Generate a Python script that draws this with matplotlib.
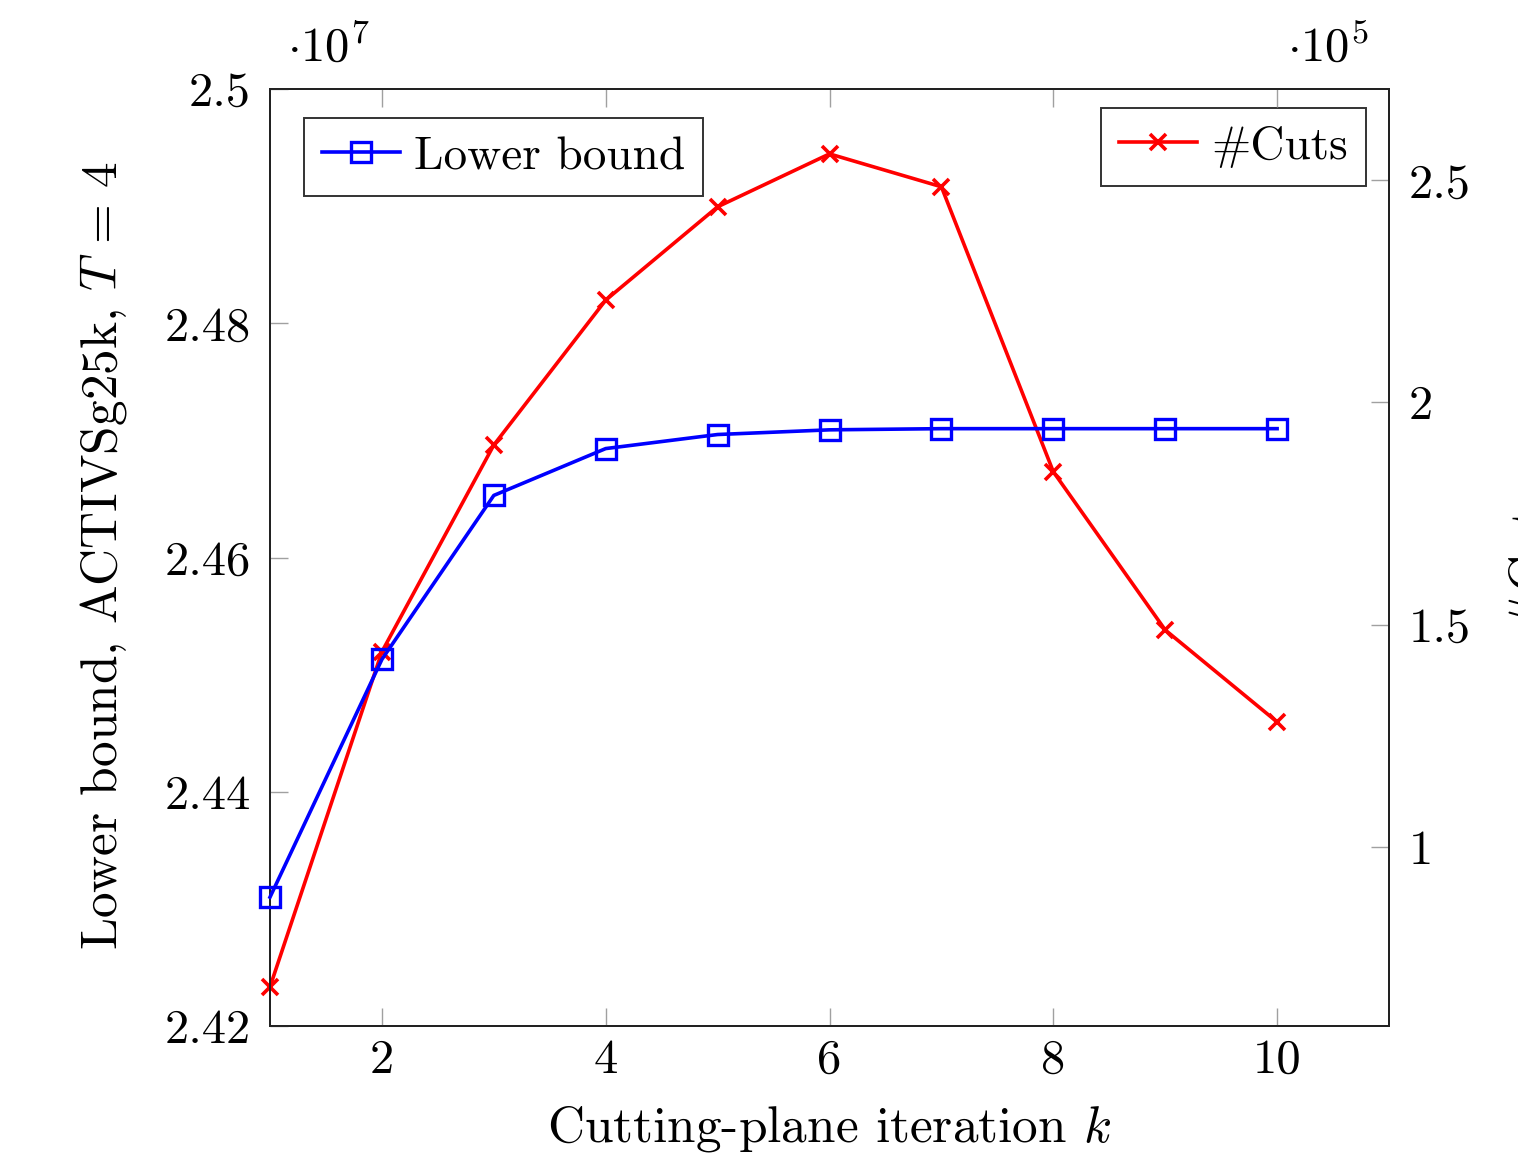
import matplotlib
matplotlib.use("Agg")
import matplotlib.pyplot as plt
from matplotlib.ticker import FuncFormatter, FixedLocator

plt.rcParams['font.family'] = ['cmr10', 'DejaVu Serif']
plt.rcParams['mathtext.fontset'] = 'cm'
plt.rcParams['axes.formatter.use_mathtext'] = True

iterations = [1, 2, 3, 4, 5, 6, 7, 8, 9, 10]
lower_bound = [2.4310e7, 2.4513e7, 2.4653e7, 2.4693e7, 2.4705e7,
               2.4709e7, 2.4710e7, 2.4710e7, 2.4710e7, 2.4710e7]
num_cuts = [0.685e5, 1.439e5, 1.904e5, 2.230e5, 2.440e5,
            2.559e5, 2.485e5, 1.844e5, 1.488e5, 1.281e5]

x_ticks = [2, 4, 6, 8, 10]
left_ticks = [2.42e7, 2.44e7, 2.46e7, 2.48e7, 2.50e7]
right_ticks = [1.0e5, 1.5e5, 2.0e5, 2.5e5]

FS = 35
LFS = 37
W, H = 1518, 1167
fig = plt.figure(figsize=(W / 100, H / 100), dpi=100)
ax = fig.add_axes([270 / W, 1 - 1026 / H, (1389 - 270) / W, (1026 - 89) / H])
ax2 = ax.twinx()

tick_gray = '#a0a0a0'
for a in (ax, ax2):
    for s in a.spines.values():
        s.set_linewidth(1.4)
        s.set_color('#222222')

ax.plot(iterations, lower_bound, color='#0000ff', lw=2.6, marker='s',
        markersize=15, markerfacecolor='none', markeredgewidth=2.4,
        label='Lower bound', clip_on=False, zorder=3)
ax2.plot(iterations, num_cuts, color='#ff0000', lw=2.6, marker='x',
         markersize=11, markeredgewidth=2.6, label='#Cuts', clip_on=False, zorder=3)

ax.set_xlim(1, 11)
ax.set_ylim(2.42e7, 2.50e7)
ax2.set_ylim(0.597e5, 2.705e5)

ax.xaxis.set_major_locator(FixedLocator(x_ticks))
ax.yaxis.set_major_locator(FixedLocator(left_ticks))
ax2.yaxis.set_major_locator(FixedLocator(right_ticks))
ax.xaxis.set_major_formatter(FuncFormatter(lambda v, p: f"{v:g}"))
ax.yaxis.set_major_formatter(FuncFormatter(lambda v, p: f"{v / 1e7:g}"))
ax2.yaxis.set_major_formatter(FuncFormatter(lambda v, p: f"{v / 1e5:g}"))

ax.tick_params(axis='x', direction='in', top=True, bottom=True, length=13,
               width=1.0, color=tick_gray, labelsize=FS, pad=9)
ax.tick_params(axis='y', direction='in', left=True, right=False, length=13,
               width=1.0, color=tick_gray, labelsize=FS, pad=14)
ax2.tick_params(axis='y', direction='in', right=True, left=False, length=13,
                width=1.0, color=tick_gray, labelsize=FS, pad=14)

ax.set_xlabel('Cutting-plane iteration $k$', fontsize=LFS, labelpad=15)
fig.text(78 / W, 1 - 555 / H, 'Lower bound, ACTIVSg25k, $T\\,=\\,4$',
         rotation=90, ha='left', va='center', fontsize=LFS)
fig.text(1506 / W, 1 - 557 / H, '#Cuts', rotation=90, ha='left', va='center',
         fontsize=LFS)

fig.text(287 / W, 1 - 62 / H, r'$\cdot 10^{7}$', ha='left', va='baseline', fontsize=FS)
fig.text(1287 / W, 1 - 62 / H, r'$\cdot 10^{5}$', ha='left', va='baseline', fontsize=FS)

leg_kw = dict(fontsize=34, frameon=True, fancybox=False, handlelength=1.65,
              handletextpad=0.3, borderpad=0.38, borderaxespad=0.0)
l1 = ax.legend(loc='upper left', bbox_to_anchor=((304 - 270) / (1389 - 270), 1 - (118 - 89) / (1026 - 89)), **leg_kw)
l2 = ax2.legend(loc='upper right', bbox_to_anchor=((1366 - 270) / (1389 - 270), 1 - (108 - 89) / (1026 - 89)), **leg_kw)
for l in (l1, l2):
    l.get_frame().set_edgecolor('black')
    l.get_frame().set_linewidth(1.4)
ax.set_zorder(ax2.get_zorder() + 1)
ax.patch.set_visible(False)

fig.savefig('out.png', dpi=100)
